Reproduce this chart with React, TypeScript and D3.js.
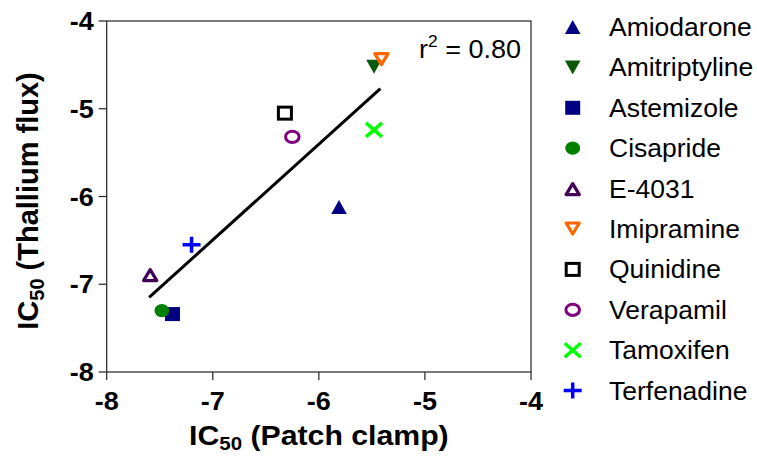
import React from "react";
import * as d3 from "d3";

const drugs = ["Amiodarone", "Amitriptyline", "Astemizole", "Cisapride", "E-4031", "Imipramine", "Quinidine", "Verapamil", "Tamoxifen", "Terfenadine"];
const patchClamp = [-5.81, -5.48, -7.38, -7.48, -7.59, -5.41, -6.32, -6.25, -5.48, -7.2];
const thalliumFlux = [-6.12, -4.52, -7.34, -7.3, -6.89, -4.44, -5.05, -5.32, -5.24, -6.55];
const markerShapes = ["triUp", "triDown", "square", "circle", "triUpOpen", "triDownOpen", "squareOpen", "circleOpen", "cross", "plus"];
const markerColors = ["#000080", "#0a5a0a", "#000080", "#008000", "#400058", "#ff6600", "#000000", "#800080", "#00ff00", "#0000ff"];
const xTicks = [-8, -7, -6, -5, -4];
const yTicks = [-8, -7, -6, -5, -4];
const fitX = [-7.6, -5.42];
const fitY = [-7.15, -4.77];
const rSquared = "0.80";

const W = 757;
const H = 456;
const FONT = "'Liberation Sans', Arial, Helvetica, sans-serif";
const SX = 1.08;

function Marker({ shape, color, cx, cy }: { shape: string; color: string; cx: number; cy: number }) {
  const t = `translate(${cx},${cy})`;
  switch (shape) {
    case "triUp":
      return <path transform={t} d="M0,-7L7.8,7L-7.8,7Z" fill={color} />;
    case "triDown":
      return <path transform={t} d="M0,7L7.8,-7L-7.8,-7Z" fill={color} />;
    case "square":
      return <rect transform={t} x={-7.5} y={-7} width={15} height={14} fill={color} />;
    case "circle":
      return <ellipse transform={t} rx={7.4} ry={6.6} fill={color} />;
    case "triUpOpen":
      return <path transform={t} d="M0,-5L6.6,6L-6.6,6Z" fill="none" stroke={color} strokeWidth={3.2} strokeLinejoin="round" />;
    case "triDownOpen":
      return <path transform={t} d="M0,5L6.6,-6L-6.6,-6Z" fill="none" stroke={color} strokeWidth={3.2} strokeLinejoin="round" />;
    case "squareOpen":
      return <rect transform={t} x={-6.5} y={-6} width={13} height={12} fill="none" stroke={color} strokeWidth={3} />;
    case "circleOpen":
      return <ellipse transform={t} rx={6.8} ry={5.6} fill="none" stroke={color} strokeWidth={3} />;
    case "cross":
      return <path transform={t} d="M-8,-7L8,7M-8,7L8,-7" fill="none" stroke={color} strokeWidth={3.5} />;
    case "plus":
      return <path transform={t} d="M-9,0L9,0M0,-8L0,8" fill="none" stroke={color} strokeWidth={3.5} />;
    default:
      return null;
  }
}

export default function App() {
  const x = d3.scaleLinear().domain([-8, -4]).range([106.7, 531]);
  const y = d3.scaleLinear().domain([-8, -4]).range([372, 21]);
  const line = d3.line<[number, number]>().x((d) => x(d[0])).y((d) => y(d[1]));
  const fitPts: [number, number][] = fitX.map((v, i) => [v, fitY[i]]);
  const [x0, x1] = x.range();
  const [yb, yt] = y.range();

  return (
    <svg width={W} height={H} style={{ position: "absolute", left: 0, top: 0, background: "#fff" }} fontFamily={FONT}>
      {/* frame */}
      <rect x={x0} y={yt} width={x1 - x0} height={yb - yt} fill="none" stroke="#222" strokeWidth={1.2} />
      {/* y ticks */}
      {yTicks.map((t) => (
        <g key={"y" + t}>
          <line x1={x0 - 8} x2={x0} y1={y(t)} y2={y(t)} stroke="#222" strokeWidth={1.2} />
          <text transform={`translate(${x0 - 13},${y(t) + 9}) scale(${SX},1)`} textAnchor="end" fontWeight="bold" fontSize={25}>
            {t}
          </text>
        </g>
      ))}
      {/* x ticks */}
      {xTicks.map((t) => (
        <g key={"x" + t}>
          <line x1={x(t)} x2={x(t)} y1={yb} y2={yb + 8} stroke="#222" strokeWidth={1.2} />
          <text transform={`translate(${x(t)},${410}) scale(${SX},1)`} textAnchor="middle" fontWeight="bold" fontSize={25}>
            {t}
          </text>
        </g>
      ))}
      {/* axis titles */}
      <text transform={`translate(${(x0 + x1) / 2},445) scale(${SX},1)`} textAnchor="middle" fontWeight="bold" fontSize={28}>
        IC<tspan fontSize={19} dy={5}>50</tspan>
        <tspan dy={-5}> (Patch clamp)</tspan>
      </text>
      <text transform={`translate(38,201) rotate(-90)`} textAnchor="middle" fontWeight="bold" fontSize={29}>
        IC<tspan fontSize={20} dy={6}>50</tspan>
        <tspan dy={-6}> (Thallium flux)</tspan>
      </text>
      {/* regression line */}
      <path d={line(fitPts) || ""} fill="none" stroke="#000" strokeWidth={3} />
      {/* r squared */}
      <text transform={`translate(521,58) scale(${SX},1)`} textAnchor="end" fontSize={25}>
        r<tspan fontSize={16} dy={-11}>2</tspan>
        <tspan dy={11}> = {rSquared}</tspan>
      </text>
      {/* points */}
      {drugs.map((d, i) => (
        <Marker key={d} shape={markerShapes[i]} color={markerColors[i]} cx={x(patchClamp[i])} cy={y(thalliumFlux[i])} />
      ))}
      {/* legend */}
      {drugs.map((d, i) => {
        const ly = 27 + i * 40.4;
        return (
          <g key={"lg" + d}>
            <Marker shape={markerShapes[i]} color={markerColors[i]} cx={572.7} cy={ly} />
            <text transform={`translate(609,${ly + 9}) scale(1.06,1)`} fontSize={25}>
              {d}
            </text>
          </g>
        );
      })}
    </svg>
  );
}
